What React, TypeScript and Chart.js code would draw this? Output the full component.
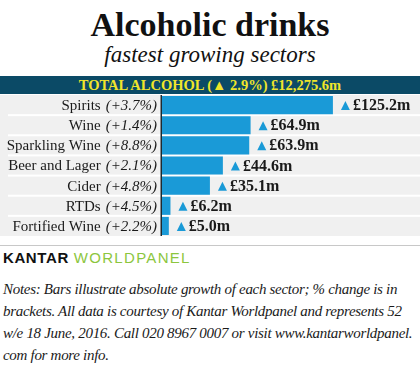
import React, { useEffect, useRef } from "react";
import { Chart, registerables } from "chart.js";

Chart.register(...registerables);

const categories = ["Spirits", "Wine", "Sparkling Wine", "Beer and Lager", "Cider", "RTDs", "Fortified Wine"];
const pctChanges = ["(+3.7%)", "(+1.4%)", "(+8.8%)", "(+2.1%)", "(+4.8%)", "(+4.5%)", "(+2.2%)"];
const growthValues = [125.2, 64.9, 63.9, 44.6, 35.1, 6.2, 5.0];
const valueLabels = ["£125.2m", "£64.9m", "£63.9m", "£44.6m", "£35.1m", "£6.2m", "£5.0m"];

const BAR = "#1a9ad7";
const SERIF = "'Liberation Serif', 'DejaVu Serif', serif";

const rowsPlugin = {
  id: "rows",
  beforeDraw(chart: any) {
    const { ctx, width } = chart;
    const y = chart.scales.y;
    const n = categories.length;
    const step = (chart.chartArea.bottom - chart.chartArea.top) / n;
    ctx.save();
    ctx.fillStyle = "#f0f0f0";
    ctx.fillRect(0, chart.chartArea.top, width, chart.chartArea.bottom - chart.chartArea.top);
    ctx.fillStyle = "#ffffff";
    for (let i = 1; i < n; i++) {
      const yy = y.getPixelForValue(i) - step / 2;
      ctx.fillRect(8, yy - 1, width - 8, 2);
    }
    ctx.restore();
  },
  afterDatasetsDraw(chart: any) {
    const { ctx } = chart;
    const x = chart.scales.x;
    const y = chart.scales.y;
    const area = chart.chartArea;
    ctx.save();
    ctx.fillStyle = "#1e2a30";
    ctx.fillRect(area.left - 1.5, area.top, 1.5, area.bottom - area.top);
    categories.forEach((cat, i) => {
      const cy = y.getPixelForValue(i) + 1;
      ctx.textBaseline = "middle";
      ctx.textAlign = "right";
      ctx.fillStyle = "#1a1a1a";
      ctx.font = `italic 15px ${SERIF}`;
      const pctRight = 157;
      ctx.fillText(pctChanges[i], pctRight, cy);
      const pw = ctx.measureText(pctChanges[i]).width;
      ctx.font = `15px ${SERIF}`;
      ctx.fillText(cat, pctRight - pw - 5, cy);
      const xe = x.getPixelForValue(growthValues[i]);
      const tx = xe + 8;
      ctx.fillStyle = BAR;
      ctx.beginPath();
      ctx.moveTo(tx, cy + 4);
      ctx.lineTo(tx + 9, cy + 4);
      ctx.lineTo(tx + 4.5, cy - 5);
      ctx.closePath();
      ctx.fill();
      ctx.fillStyle = "#1a1a1a";
      ctx.textAlign = "left";
      ctx.font = `bold 16px ${SERIF}`;
      ctx.fillText(valueLabels[i], tx + 12, cy);
    });
    ctx.restore();
  },
};

export default function App() {
  const ref = useRef<HTMLCanvasElement | null>(null);
  useEffect(() => {
    if (!ref.current) return;
    const chart = new Chart(ref.current, {
      type: "bar",
      data: {
        labels: categories,
        datasets: [
          {
            data: growthValues,
            backgroundColor: BAR,
            borderWidth: 0,
            barPercentage: 0.9,
            categoryPercentage: 1,
          },
        ],
      },
      options: {
        indexAxis: "y",
        responsive: false,
        animation: false,
        devicePixelRatio: 1,
        layout: { padding: { left: 162, right: 0, top: 0, bottom: 0 } },
        plugins: { legend: { display: false }, tooltip: { enabled: false }, title: { display: false } },
        scales: {
          x: { display: false, min: 0, max: 189 },
          y: { display: false },
        },
      },
      plugins: [rowsPlugin],
    } as any);
    return () => chart.destroy();
  }, []);

  const notesStyle: React.CSSProperties = {
    position: "absolute",
    left: 3,
    top: 278,
    fontFamily: SERIF,
    fontStyle: "italic",
    fontSize: 15,
    lineHeight: "22px",
    color: "#1a1a1a",
    whiteSpace: "nowrap",
    letterSpacing: -0.3,
  };

  return (
    <div style={{ position: "absolute", left: 0, top: 0, width: 420, height: 376, background: "#fff", overflow: "hidden" }}>
      <div style={{ position: "absolute", top: 5, left: 0, width: 420, textAlign: "center", fontFamily: SERIF, fontWeight: "bold", fontSize: 34, lineHeight: "40px", color: "#111" }}>
        Alcoholic drinks
      </div>
      <div style={{ position: "absolute", top: 41, left: 0, width: 420, textAlign: "center", fontFamily: SERIF, fontStyle: "italic", fontSize: 23, lineHeight: "28px", color: "#111" }}>
        fastest growing sectors
      </div>
      <div style={{ position: "absolute", top: 76, left: 0, width: 420, height: 18, background: "#0b4a66", textAlign: "center", fontFamily: SERIF, fontWeight: "bold", fontSize: 14.5, lineHeight: "19px", color: "#f0e52a" }}>
        TOTAL ALCOHOL (▲ 2.9%) £12,275.6m
      </div>
      <canvas ref={ref} width={420} height={141} style={{ position: "absolute", left: 0, top: 95, width: 420, height: 141 }} />
      <div style={{ position: "absolute", left: 0, top: 245, width: 420, height: 1, background: "#c8c8c8" }} />
      <div style={{ position: "absolute", left: 3, top: 250, fontFamily: "'Liberation Sans', Arial, sans-serif", fontSize: 15, lineHeight: "16px", whiteSpace: "nowrap" }}>
        <span style={{ fontWeight: "bold", color: "#111", letterSpacing: 0.6 }}>KANTAR</span>
        <span style={{ color: "#8cc63e", letterSpacing: 1.3, marginLeft: 5 }}>WORLDPANEL</span>
      </div>
      <div style={notesStyle}>
        Notes: Bars illustrate absolute growth of each sector; % change is in
        <br />
        brackets. All data is courtesy of Kantar Worldpanel and represents 52
        <br />
        w/e 18 June, 2016. Call 020 8967 0007 or visit www.kantarworldpanel.
        <br />
        com for more info.
      </div>
    </div>
  );
}
